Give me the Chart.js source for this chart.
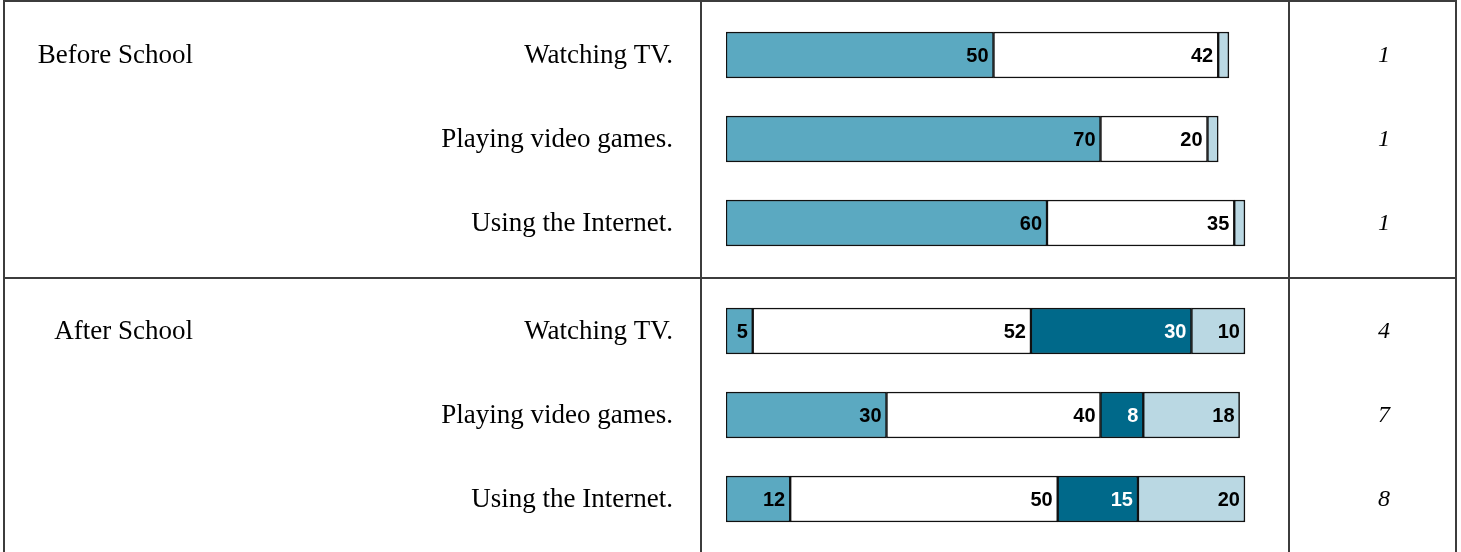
<!DOCTYPE html>
<html>
<head>
<meta charset="utf-8">
<script src="https://cdn.jsdelivr.net/npm/chart.js@4.4.0/dist/chart.umd.min.js"></script>
<style>
  html, body { margin: 0; padding: 0; background: #fff; }
  #wrap { position: relative; width: 1461px; height: 552px; overflow: hidden; }
  #wrap canvas { position: absolute; left: 0; }
  .rule { position: absolute; background: #3c3c3c; }
</style>
</head>
<body>
<div id="wrap">
  <canvas id="beforeChart" width="1461" height="277" style="top:0"></canvas>
  <canvas id="afterChart" width="1461" height="275" style="top:277px"></canvas>
  <!-- table rules -->
  <div class="rule" style="left:3px;top:0;width:1454px;height:2px"></div>
  <div class="rule" style="left:3px;top:277px;width:1454px;height:2px"></div>
  <div class="rule" style="left:3px;top:0;width:2px;height:552px"></div>
  <div class="rule" style="left:700px;top:0;width:2px;height:552px"></div>
  <div class="rule" style="left:1288px;top:0;width:2px;height:552px"></div>
  <div class="rule" style="left:1455px;top:0;width:2px;height:552px"></div>
</div>
<script>
const items = ['Watching TV.', 'Playing video games.', 'Using the Internet.'];

// Before school
const beforeTeal  = [50, 70, 60];
const beforeWhite = [42, 20, 35];
const beforeDark  = [0, 0, 0];
const beforeLight = [2, 2, 2];
const beforeOther = ['1', '1', '1'];

// After school
const afterTeal  = [5, 30, 12];
const afterWhite = [52, 40, 50];
const afterDark  = [30, 8, 15];
const afterLight = [10, 18, 20];
const afterOther = ['4', '7', '8'];

const COLORS = {
  teal: '#5ba9c1',
  white: '#ffffff',
  dark: '#00698a',
  light: '#bad8e3',
  edge: '#111111'
};
const SERIF = '"Liberation Serif", "Times New Roman", serif';

// numbers inside each segment, right aligned at the segment end
const segmentValues = {
  id: 'segmentValues',
  afterDatasetsDraw(chart) {
    const ctx = chart.ctx;
    ctx.save();
    ctx.font = 'bold 20px "Liberation Sans", Arial, sans-serif';
    ctx.textAlign = 'right';
    ctx.textBaseline = 'middle';
    chart.data.datasets.forEach((ds, i) => {
      chart.getDatasetMeta(i).data.forEach((bar, j) => {
        const v = ds.data[j];
        if (v < 3) return;
        ctx.fillStyle = ds.labelColor || '#000';
        ctx.fillText(v, bar.x - 5, bar.y + 1);
      });
    });
    ctx.restore();
  }
};

// group name, row names and the right hand column
const rowText = {
  id: 'rowText',
  afterDraw(chart, args, opts) {
    const ctx = chart.ctx;
    const y = chart.scales.y;
    ctx.save();
    ctx.fillStyle = '#000';
    ctx.textBaseline = 'middle';
    ctx.textAlign = 'right';
    ctx.font = '27px ' + SERIF;
    ctx.fillText(opts.group, 193, y.getPixelForValue(0) + 1);
    chart.data.labels.forEach((lab, i) => {
      ctx.fillText(lab, 673, y.getPixelForValue(i) + 1);
    });
    ctx.textAlign = 'center';
    ctx.font = 'italic 24px ' + SERIF;
    opts.other.forEach((t, i) => {
      ctx.fillText(t, 1384, y.getPixelForValue(i) + 1);
    });
    ctx.restore();
  }
};

function makeChart(id, group, teal, white, dark, light, other, padTop, padBottom) {
  const seg = (data, color, labelColor) => ({
    data: data,
    backgroundColor: color,
    borderColor: COLORS.edge,
    borderWidth: 1.5,
    borderSkipped: false,
    barThickness: 46,
    labelColor: labelColor
  });
  return new Chart(document.getElementById(id), {
    type: 'bar',
    data: {
      labels: items,
      datasets: [
        seg(teal, COLORS.teal, '#000'),
        seg(white, COLORS.white, '#000'),
        seg(dark, COLORS.dark, '#fff'),
        seg(light, COLORS.light, '#000')
      ]
    },
    options: {
      indexAxis: 'y',
      responsive: false,
      animation: false,
      layout: { padding: { top: padTop, bottom: padBottom, left: 726, right: 200 } },
      scales: {
        x: { stacked: true, min: 0, max: 100, display: false },
        y: { stacked: true, display: false }
      },
      plugins: {
        legend: { display: false },
        tooltip: { enabled: false },
        rowText: { group: group, other: other }
      }
    },
    plugins: [segmentValues, rowText]
  });
}

makeChart('beforeChart', 'Before School', beforeTeal, beforeWhite, beforeDark, beforeLight, beforeOther, 13, 12);
makeChart('afterChart', 'After School', afterTeal, afterWhite, afterDark, afterLight, afterOther, 12, 11);
</script>
</body>
</html>
